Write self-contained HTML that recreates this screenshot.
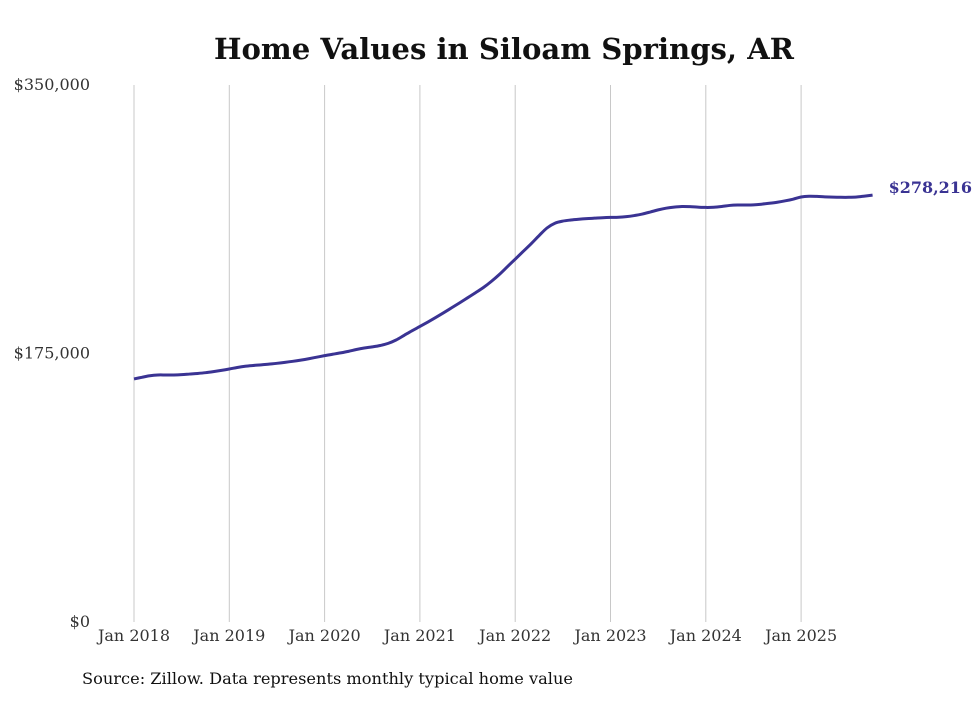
<!DOCTYPE html>
<html><head><meta charset="utf-8"><style>
body{margin:0;background:#fff;width:980px;height:699px;overflow:hidden;font-family:"DejaVu Serif","Liberation Serif",serif}
</style></head><body>
<svg width="980" height="699">
<text x="504" y="59" text-anchor="middle" font-size="29" font-weight="bold" fill="#111" textLength="580" lengthAdjust="spacingAndGlyphs">Home Values in Siloam Springs, AR</text>
<g id="grid"></g><g id="yt"></g><g id="xt"></g>
<path id="line" fill="none" stroke="#3a3393" stroke-width="3" stroke-linejoin="round"/>
<text id="endlbl" font-size="16" font-weight="bold" fill="#3a3393"></text>
<text x="82" y="684" font-size="16" fill="#111" textLength="491" lengthAdjust="spacingAndGlyphs">Source: Zillow. Data represents monthly typical home value</text>
</svg>
<script>
const years=[2018,2019,2020,2021,2022,2023,2024,2025];
const yTicks=[0,175000,350000];
const yTickLabels=["$0","$175,000","$350,000"];
const values=[
158.4,159.5,160.5,161.0,161.0,161.0,161.2,161.6,162.0,162.5,163.2,164.0,
164.9,165.9,166.7,167.2,167.6,168.1,168.6,169.2,169.9,170.7,171.6,172.6,
173.6,174.5,175.4,176.4,177.6,178.6,179.3,180.2,181.6,183.8,186.8,189.8,
192.6,195.5,198.5,201.6,204.8,208.0,211.3,214.6,218.0,222.0,226.5,231.5,
236.5,241.5,246.5,251.8,256.8,259.9,261.3,262.0,262.5,262.9,263.2,263.5,
263.7,263.8,264.2,264.9,265.9,267.2,268.6,269.7,270.4,270.8,270.7,270.4,
270.2,270.3,270.8,271.5,271.8,271.8,271.9,272.3,272.9,273.6,274.5,275.6,
277.0,277.5,277.4,277.1,276.9,276.8,276.8,277.0,277.6,278.216];
const endLabel="$278,216";
const NS="http://www.w3.org/2000/svg";
const x0=134,pxYear=95.3,yTop=85,yBot=622,yMax=350000;
const xs=m=>x0+m*pxYear/12;
const ys=v=>yBot-v/yMax*(yBot-yTop);
function mk(t,a,p){const e=document.createElementNS(NS,t);for(const k in a)e.setAttribute(k,a[k]);p.appendChild(e);return e;}
const grid=document.getElementById('grid'),xt=document.getElementById('xt'),yt=document.getElementById('yt');
years.forEach((y,i)=>{const x=xs(i*12);
const l=mk('line',{x1:x,x2:x,y1:yTop,y2:yBot,stroke:'#c8c8c8','stroke-width':1},grid);


const t=mk('text',{x:x,y:641,'text-anchor':'middle','font-size':16,fill:'#333'},xt);t.textContent='Jan '+y;

});
yTicks.forEach((v,i)=>{const t=mk('text',{x:90,y:ys(v)+5,'text-anchor':'end','font-size':16,fill:'#333'},yt);t.textContent=yTickLabels[i];

});
const pts=values.map((v,i)=>[xs(i),ys(v*1000)]);
let d='M'+pts[0][0]+','+pts[0][1];
for(let i=1;i<pts.length;i++){const p0=pts[Math.max(0,i-2)],p1=pts[i-1],p2=pts[i],p3=pts[Math.min(pts.length-1,i+1)];
d+=` C${p1[0]+(p2[0]-p0[0])/6},${p1[1]+(p2[1]-p0[1])/6} ${p2[0]-(p3[0]-p1[0])/6},${p2[1]-(p3[1]-p1[1])/6} ${p2[0]},${p2[1]}`;}
document.getElementById('line').setAttribute('d',d);
const last=pts[pts.length-1],el=document.getElementById('endlbl');
el.setAttribute('x',last[0]+16);el.setAttribute('y',last[1]-2);el.textContent=endLabel;
</script>
</body></html>
